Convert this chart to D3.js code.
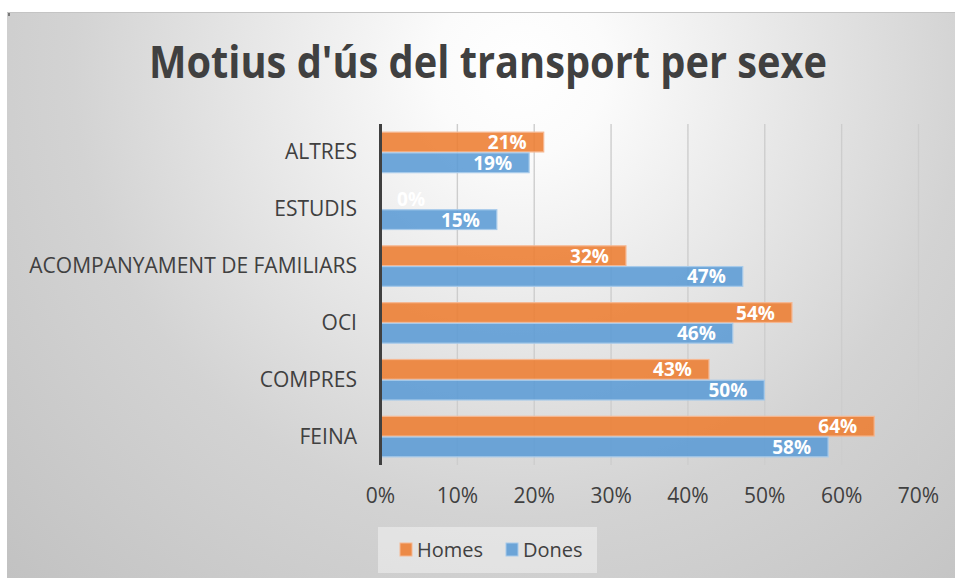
<!DOCTYPE html>
<html>
<head>
<meta charset="utf-8">
<script src="https://cdn.jsdelivr.net/npm/d3@7"></script>
<style>
  html, body { margin: 0; padding: 0; background: #ffffff; }
  svg { display: block; }
</style>
</head>
<body>
<svg id="chart" width="955" height="578"></svg>
<script>
// ---- data ----
const title = "Motius d'ús del transport per sexe";
const categories = ["ALTRES", "ESTUDIS", "ACOMPANYAMENT DE FAMILIARS", "OCI", "COMPRES", "FEINA"];
const seriesNames = ["Homes", "Dones"];
const homes = [0.213, 0.0, 0.320, 0.536, 0.428, 0.643];
const dones = [0.194, 0.152, 0.472, 0.459, 0.500, 0.583];
const tickValues = [0, 0.1, 0.2, 0.3, 0.4, 0.5, 0.6, 0.7];
const seriesColors = ["#ED7D31", "#5B9BD5"];
const seriesStrokes = ["#F6B791", "#A7CAEA"];

const W = 955, H = 578;
const svg = d3.select("#chart");
const defs = svg.append("defs");
const font = "'Open Sans', 'Noto Sans', sans-serif";

// background gradient
const rg = defs.append("radialGradient").attr("id", "bg")
  .attr("gradientUnits", "userSpaceOnUse")
  .attr("cx", 520).attr("cy", 70).attr("r", 720);
rg.append("stop").attr("offset", 0).attr("stop-color", "#ffffff");
rg.append("stop").attr("offset", 0.12).attr("stop-color", "#fbfbfb");
rg.append("stop").attr("offset", 0.62).attr("stop-color", "#d3d3d3");
rg.append("stop").attr("offset", 1).attr("stop-color", "#c2c2c2");

svg.append("rect").attr("x", 7).attr("y", 12).attr("width", W - 7).attr("height", H - 12)
  .attr("fill", "url(#bg)");
svg.append("line").attr("x1", 7).attr("x2", W).attr("y1", 12.5).attr("y2", 12.5)
  .attr("stroke", "#c4c4c4").attr("stroke-width", 1);
svg.append("rect").attr("x", 8.5).attr("y", 13).attr("width", 1).attr("height", 3).attr("fill", "#222");

// scales
const x = d3.scaleLinear().domain([0, 0.7]).range([380, 918]);
const y = d3.scaleBand().domain(categories).range([124, 465]).paddingInner(0.27).paddingOuter(0.135);
const ys = d3.scaleBand().domain(seriesNames).range([0, y.bandwidth()]);

// gridline gradient
const lg = defs.append("linearGradient").attr("id", "grid")
  .attr("gradientUnits", "userSpaceOnUse").attr("x1", 0).attr("x2", 0).attr("y1", 124).attr("y2", 465);
lg.append("stop").attr("offset", 0).attr("stop-color", "#cdcdcd");
lg.append("stop").attr("offset", 1).attr("stop-color", "#8e8e8e");

// x axis (gridlines + labels)
const xAxis = d3.axisBottom(x).tickValues(tickValues).tickFormat(d3.format(".0%")).tickSize(0).tickPadding(0);
const gx = svg.append("g").attr("transform", "translate(0,465)").call(xAxis);
gx.select(".domain").remove();
gx.selectAll(".tick text").attr("y", 38).attr("dy", 0)
  .attr("font-family", font).attr("font-size", 21).attr("fill", "#404040");

const grid = d3.axisBottom(x).tickValues(tickValues.slice(1)).tickSize(-(465 - 124)).tickFormat("");
const gg = svg.append("g").attr("transform", "translate(0,465)").call(grid);
gg.select(".domain").remove();
gg.selectAll(".tick line").attr("stroke", "url(#grid)").attr("stroke-width", 1.4);

// bars
const rows = categories.map((c, i) => ({ cat: c, vals: [homes[i], dones[i]] }));
const groups = svg.append("g").selectAll("g").data(rows).join("g")
  .attr("transform", d => `translate(0,${y(d.cat)})`);

const bars = groups.selectAll("g.b").data(d => d.vals.map((v, j) => ({ v, s: seriesNames[j], j })))
  .join("g").attr("class", "b");

bars.filter(d => d.v > 0).append("rect")
  .attr("x", x(0)).attr("y", d => ys(d.s) + 0.5)
  .attr("width", d => x(d.v) - x(0)).attr("height", ys.bandwidth() - 1)
  .attr("fill", d => seriesColors[d.j]).attr("fill-opacity", 0.88)
  .attr("stroke", d => seriesStrokes[d.j]).attr("stroke-width", 1.2);

bars.append("text")
  .attr("x", d => Math.max(x(d.v) - 17, x(0) + 45))
  .attr("y", d => ys(d.s) + ys.bandwidth() / 2 + 7)
  .attr("text-anchor", "end")
  .attr("font-family", font).attr("font-weight", 700).attr("font-size", 19)
  .attr("fill", "#ffffff")
  .text(d => d3.format(".0%")(d.v));

// y axis
const yAxis = d3.axisLeft(y).tickSize(0).tickPadding(0);
const gy = svg.append("g").attr("transform", "translate(380,0)").call(yAxis);
gy.select(".domain").remove();
gy.selectAll(".tick text").attr("x", -23).attr("dy", 7)
  .attr("font-family", font).attr("font-size", 21).attr("fill", "#404040");
svg.append("line").attr("x1", x(0) + 0.5).attr("x2", x(0) + 0.5).attr("y1", 124).attr("y2", 465)
  .attr("stroke", "#404040").attr("stroke-width", 3);

// fit helper for narrower reference font
function fit(sel, target) {
  sel.each(function () {
    const len = this.getComputedTextLength();
    if (Math.abs(len - target) > target * 0.02) {
      d3.select(this).attr("textLength", target).attr("lengthAdjust", "spacingAndGlyphs");
    }
  });
}
fit(gy.selectAll(".tick text").filter(d => d === "ACOMPANYAMENT DE FAMILIARS"), 330);

// title
const t = svg.append("text").attr("x", 488).attr("y", 78).attr("text-anchor", "middle")
  .attr("font-family", font).attr("font-weight", 700).attr("font-size", 44).attr("fill", "#404040")
  .text(title);
fit(t, 678);

// legend
const lgx = 378, lgy = 527;
svg.append("rect").attr("x", lgx).attr("y", lgy).attr("width", 219).attr("height", 46)
  .attr("fill", "#ffffff").attr("fill-opacity", 0.4);
const legendX = [400, 506];
const li = svg.append("g").selectAll("g").data(seriesNames).join("g")
  .attr("transform", (d, i) => `translate(${legendX[i]},${lgy + 16})`);
li.append("rect").attr("width", 12).attr("height", 13)
  .attr("fill", (d, i) => seriesColors[i]).attr("fill-opacity", 0.88)
  .attr("stroke", (d, i) => seriesStrokes[i]).attr("stroke-width", 1);
li.append("text").attr("x", 17).attr("y", 14)
  .attr("font-family", font).attr("font-size", 20).attr("fill", "#404040").text(d => d);
</script>
</body>
</html>
